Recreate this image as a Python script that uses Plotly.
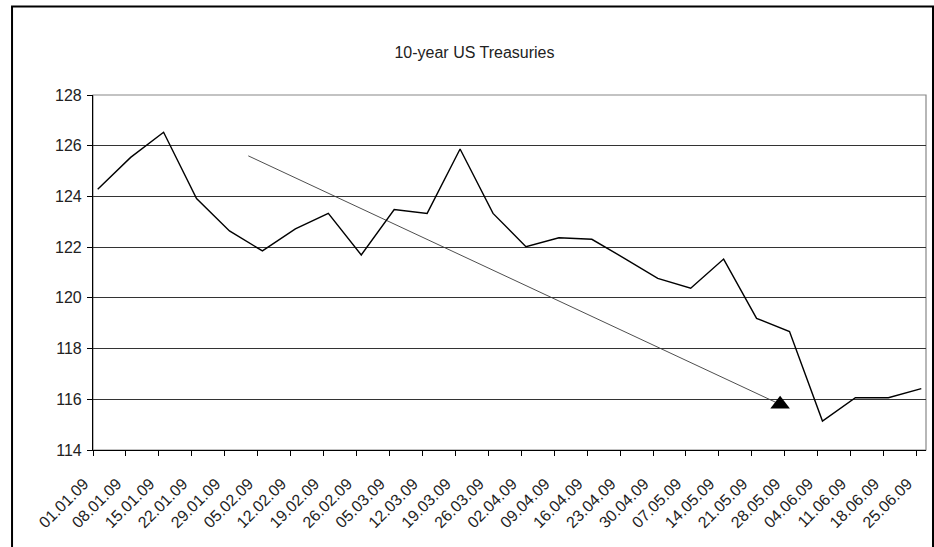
import plotly.graph_objects as go

# Data (weekly observations, Friday closes)
obs_dates = [
    "2009-01-02", "2009-01-09", "2009-01-16", "2009-01-23", "2009-01-30",
    "2009-02-06", "2009-02-13", "2009-02-20", "2009-02-27", "2009-03-06",
    "2009-03-13", "2009-03-20", "2009-03-27", "2009-04-03", "2009-04-10",
    "2009-04-17", "2009-04-24", "2009-05-01", "2009-05-08", "2009-05-15",
    "2009-05-22", "2009-05-29", "2009-06-05", "2009-06-12", "2009-06-19",
    "2009-06-26",
]
prices = [
    124.28, 125.54, 126.53, 123.92, 122.64, 121.85, 122.72, 123.33, 121.69, 123.48,
    123.33, 125.87, 123.33, 122.02, 122.37, 122.31, 121.55, 120.77, 120.38, 121.53,
    119.19, 118.67, 115.14, 116.06, 116.06, 116.42,
]

trend_dates = ["2009-02-03", "2009-05-27"]
trend_values = [125.6, 115.8]

title_text = "10-year US Treasuries"
x_range = ["2009-01-01", "2009-06-27"]
y_range = [114, 128]

FONT = "Liberation Sans, Arial, Helvetica, sans-serif"

fig = go.Figure()

fig.add_trace(go.Scatter(
    x=trend_dates, y=trend_values, mode="lines+markers",
    line=dict(color="#3a3a3a", width=0.9),
    marker=dict(symbol="triangle-up", size=[0, 17], color="black",
                opacity=[0, 1], line=dict(width=0)),
    hoverinfo="skip", showlegend=False,
))

fig.add_trace(go.Scatter(
    x=obs_dates, y=prices, mode="lines",
    line=dict(color="black", width=1.4),
    showlegend=False,
))

# Outer chart frame
fig.add_shape(type="rect", xref="paper", yref="paper",
              x0=-0.0972, x1=1.0084, y0=-0.3, y1=1.249,
              line=dict(color="black", width=2), layer="below")
# Plot-area border (grey)
fig.add_shape(type="rect", xref="paper", yref="paper",
              x0=0, x1=1, y0=0, y1=1,
              line=dict(color="#888888", width=1.2), layer="below")

fig.update_layout(
    width=934, height=547,
    margin=dict(l=93, r=8, t=95, b=97),
    paper_bgcolor="white", plot_bgcolor="white",
    font=dict(family=FONT, size=16, color="#222222"),
    title=dict(text=title_text, x=0.508, xanchor="center",
               y=0.905, yanchor="middle",
               font=dict(family=FONT, size=16, color="#222222")),
    showlegend=False,
)

fig.update_xaxes(
    type="date", range=x_range,
    tick0="2009-01-01", dtick=7 * 86400000, tickformat="%d.%m.%y",
    tickangle=-45, ticks="outside", ticklen=5, tickcolor="black",
    ticklabelstandoff=12, ticklabelshift=-9,
    showline=True, linecolor="black", linewidth=1.2,
    showgrid=False, zeroline=False,
    tickfont=dict(family=FONT, size=16, color="#222222"),
)

fig.update_yaxes(
    range=y_range, dtick=2, tick0=114,
    ticks="outside", ticklen=5, tickcolor="black",
    ticklabelstandoff=2,
    showline=True, linecolor="black", linewidth=1.2,
    showgrid=True, gridcolor="#333333", gridwidth=1,
    zeroline=False,
    tickfont=dict(family=FONT, size=16, color="#222222"),
)

fig.write_html("out.html",
               config={"displayModeBar": False},
               post_script="document.body.style.margin='0';document.body.style.overflow='hidden';")
